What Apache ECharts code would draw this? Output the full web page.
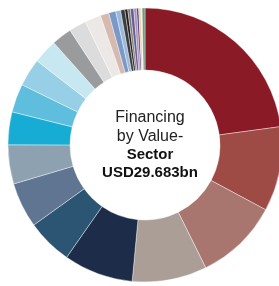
<!DOCTYPE html>
<html>
<head>
<meta charset="utf-8">
<script src="https://cdn.jsdelivr.net/npm/echarts@6/dist/echarts.min.js"></script>
<style>
  html, body { margin: 0; padding: 0; background: #fff; }
  #chart { width: 279px; height: 286px; }
</style>
</head>
<body>
<div id="chart"></div>
<script>
const sectors = [
  'Sector 1', 'Sector 2', 'Sector 3', 'Sector 4', 'Sector 5', 'Sector 6', 'Sector 7',
  'Sector 8', 'Sector 9', 'Sector 10', 'Sector 11', 'Sector 12', 'Sector 13', 'Sector 14',
  'Sector 15', 'Sector 16', 'Sector 17', 'Sector 18', 'Sector 19', 'Sector 20', 'Sector 21',
  'Sector 22', 'Sector 23', 'Sector 24', 'Sector 25', 'Sector 26', 'Sector 27'
]
const values = [
  6.80, 2.97, 2.93, 2.62, 2.44, 1.60, 1.59,
  1.37, 1.15, 1.00, 0.98, 0.85, 0.71, 0.61,
  0.56, 0.30, 0.25, 0.17, 0.15, 0.10, 0.09,
  0.12, 0.10, 0.07, 0.08, 0.04, 0.10
]
const palette = [
  '#8B1A27', '#9E4B45', '#A8766E', '#AB9E97', '#1D2C48', '#2B5572', '#607592',
  '#8DA1B1', '#16ACD3', '#5FBEDD', '#97CFE6', '#C7E7F1', '#999B9D', '#DCDCDC',
  '#ECE8E6', '#D7B9AE', '#7B99C7', '#9BB9DD', '#3C3C3C', '#1E1E1E', '#7A7A7A',
  '#6C5B8D', '#A593C2', '#4E3B6C', '#F3C7A5', '#FBE3D3', '#6B9B81'
]
const totalLabel = 'USD29.683bn'

const chart = echarts.init(document.getElementById('chart'))
chart.setOption({
  animation: false,
  color: palette,
  title: {
    text: '{r|Financing}\n{r|by Value-}\n{b|Sector}\n{b|' + totalLabel + '}',
    left: 145,
    top: 103,
    textAlign: 'center',
    textStyle: {
      fontWeight: 'normal',
      rich: {
        r: { fontFamily: 'Liberation Sans', fontSize: 16, fontWeight: 'normal', color: '#222', lineHeight: 19, align: 'center' },
        b: { fontFamily: 'Liberation Sans', fontSize: 15, fontWeight: 'bold', color: '#111', lineHeight: 18, align: 'center' },
      },
    },
  },
  series: [{
    type: 'pie',
    center: [145, 145],
    radius: [75, 137],
    startAngle: 90,
    clockwise: true,
    label: { show: false },
    labelLine: { show: false },
    itemStyle: { borderColor: '#fff', borderWidth: 0.4 },
    data: sectors.map((s, i) => ({ name: s, value: values[i] })),
  }],
})
</script>
</body>
</html>
